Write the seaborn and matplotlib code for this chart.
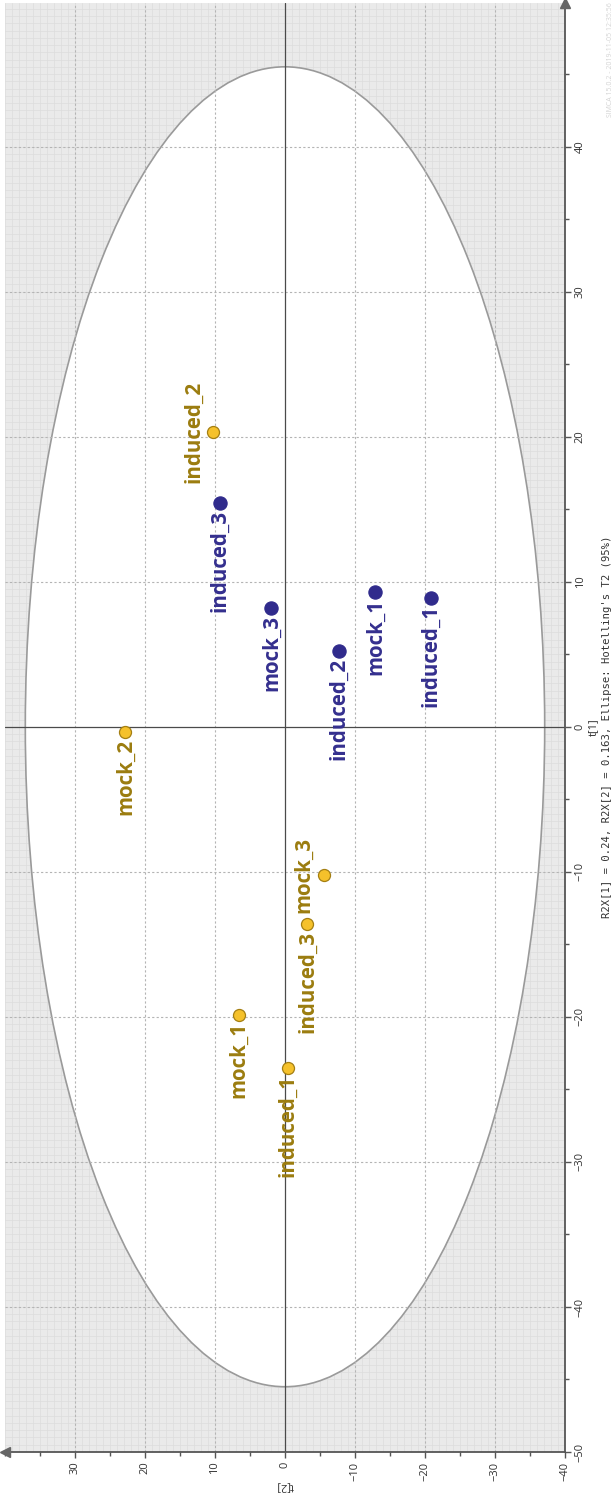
import numpy as np
import pandas as pd
import matplotlib
matplotlib.use("Agg")
import matplotlib.pyplot as plt
from matplotlib.patches import Ellipse
from matplotlib.ticker import MultipleLocator, FixedLocator
import seaborn as sns

# PCA scores: t[1] (first component) and t[2] (second component)
gold_names = ["mock_1", "mock_2", "mock_3", "induced_1", "induced_2", "induced_3"]
gold_t1 = [-19.9, -0.35, -10.2, -23.5, 20.3, -13.6]
gold_t2 = [6.6, 22.8, -5.5, -0.4, 10.3, -3.2]

blue_names = ["mock_1", "mock_3", "induced_1", "induced_2", "induced_3"]
blue_t1 = [9.3, 8.2, 8.9, 5.2, 15.4]
blue_t2 = [-12.9, 1.95, -20.8, -7.7, 9.3]

t1_ticks = [-50, -40, -30, -20, -10, 0, 10, 20, 30, 40]
t2_ticks = [-40, -30, -20, -10, 0, 10, 20, 30]

r2x = [0.24, 0.163]
# Hotelling's T2 (95%) ellipse semi-axes along t[1] and t[2]
t2_ellipse = [45.5, 37.1]

GOLD_FACE, GOLD_EDGE, GOLD_TEXT = "#f5c12b", "#a47f12", "#9b7c0f"
BLUE_FACE, BLUE_TEXT = "#302b8c", "#342f8e"

df = pd.concat([
    pd.DataFrame({"name": gold_names, "t1": gold_t1, "t2": gold_t2, "group": "gold"}),
    pd.DataFrame({"name": blue_names, "t1": blue_t1, "t2": blue_t2, "group": "blue"}),
], ignore_index=True)

sns.set_theme(style="white")
plt.rcParams["font.family"] = ["Open Sans", "DejaVu Sans"]

fig = plt.figure(figsize=(6.13, 14.93), dpi=100)
ax = fig.add_axes([5 / 613, 41 / 1493, 560 / 613, 1449 / 1493])

# the score plot is laid out turned a quarter turn: t[1] runs upward, t[2] runs leftward
ax.set_xlim(40, -40)
ax.set_ylim(-50, 49.9)
ax.set_facecolor("#eaeaea")

# fine minor grid giving the shaded area outside the ellipse its texture
for v in np.arange(-40, 40.01, 1.0):
    ax.axvline(v, color="#dcdcdc", lw=0.5, zorder=0.5)
for v in np.arange(-50, 50.01, 0.5):
    ax.axhline(v, color="#dcdcdc", lw=0.5, zorder=0.5)

ell = Ellipse((0, 0), width=2 * t2_ellipse[1], height=2 * t2_ellipse[0],
              facecolor="white", edgecolor="#9a9a9a", lw=1.2, zorder=1)
ax.add_patch(ell)

# major grid
for v in t2_ticks:
    if v != 0:
        ax.axvline(v, color="#b4b4b4", lw=0.8, ls=(0, (2, 2)), zorder=1.5)
for v in t1_ticks:
    if v != 0:
        ax.axhline(v, color="#b4b4b4", lw=0.8, ls=(0, (2, 2)), zorder=1.5)
ax.axvline(0, color="#4a4a4a", lw=0.9, zorder=1.6)
ax.axhline(0, color="#4a4a4a", lw=0.9, zorder=1.6)

sns.scatterplot(data=df[df.group == "gold"], x="t2", y="t1", color=GOLD_FACE,
                edgecolor=GOLD_EDGE, linewidth=0.9, s=75, ax=ax, zorder=3, legend=False)
sns.scatterplot(data=df[df.group == "blue"], x="t2", y="t1", color=BLUE_FACE,
                edgecolor=BLUE_FACE, linewidth=0.9, s=90, ax=ax, zorder=3, legend=False)

side_labels = {("gold", "induced_2"), ("gold", "mock_3")}
for _, r in df.iterrows():
    col = GOLD_TEXT if r.group == "gold" else BLUE_TEXT
    if (r.group, r["name"]) in side_labels:
        off, ha, va = (-6.5, 0), "right", "center"
    else:
        off, ha, va = (0, -5), "center", "top"
    ax.annotate(r["name"], (r.t2, r.t1), xytext=off, textcoords="offset points",
                rotation=90, ha=ha, va=va, color=col, fontsize=14.8,
                fontweight="bold", zorder=4)

# axes: t[2] along the bottom, t[1] on the right
for s in ["top", "left"]:
    ax.spines[s].set_visible(False)
for s in ["bottom", "right"]:
    ax.spines[s].set_color("#555555")
    ax.spines[s].set_linewidth(1.3)
ax.yaxis.tick_right()
ax.xaxis.set_major_locator(FixedLocator(t2_ticks))
ax.yaxis.set_major_locator(FixedLocator(t1_ticks))
ax.xaxis.set_minor_locator(MultipleLocator(5))
ax.yaxis.set_minor_locator(MultipleLocator(5))
ax.tick_params(which="major", length=4, width=1, color="#555555", labelsize=8,
               labelcolor="#333333", pad=3)
ax.tick_params(which="minor", length=3, width=1, color="#555555")
ax.tick_params(axis="x", which="both", bottom=True)
ax.tick_params(axis="y", which="both", right=True, left=False)
for lab in ax.get_xticklabels():
    lab.set_rotation(90)
    lab.set_ha("center")
    lab.set_va("top")
for lab in ax.get_yticklabels():
    lab.set_rotation(90)
    lab.set_ha("left")
    lab.set_va("center")
ax.set_xlabel("")
ax.set_ylabel("")

# arrow heads on the axis ends
ax.plot([1], [1], marker="^", ms=7, color="#666666", transform=ax.transAxes,
        clip_on=False, zorder=5)
ax.plot([0], [0], marker="<", ms=7, color="#666666", transform=ax.transAxes,
        clip_on=False, zorder=5)

fig.text(593 / 613, 1 - 727 / 1493, "t[1]", rotation=90, ha="center", va="center",
         fontsize=8, color="#333333")
fig.text(607 / 613, 1 - 727 / 1493,
         f"R2X[1] = {r2x[0]}, R2X[2] = {r2x[1]}, Ellipse: Hotelling's T2 (95%)",
         rotation=90, ha="center", va="center", fontsize=7.6, color="#333333",
         family="DejaVu Sans Mono")
fig.text(285 / 613, 1 - 1486 / 1493, "t[2]", rotation=180, ha="center", va="center",
         fontsize=8, color="#333333")
fig.text(610 / 613, 1 - 2 / 1493, "SIMCA 15.0.2 - 2019-11-05 12:35:56", rotation=90,
         ha="center", va="top", fontsize=5, color="#d4d4d4")

fig.savefig("out.png", dpi=100)
